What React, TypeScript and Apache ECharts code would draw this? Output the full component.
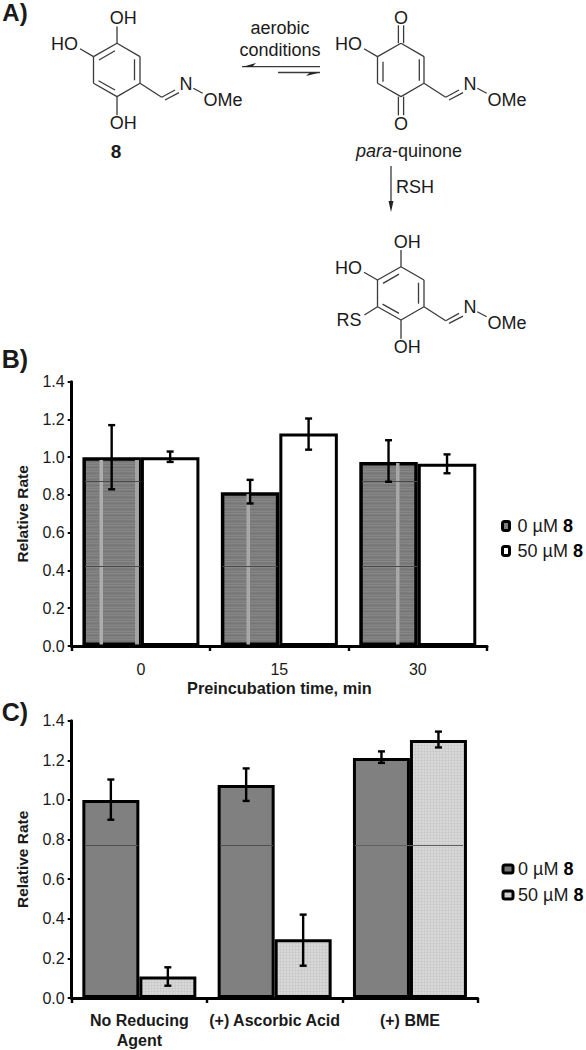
import React, { useEffect, useRef } from "react";
import * as echarts from "echarts";

const FONT = '"Liberation Sans", Arial, sans-serif';
const INK = "#1a1a1a";

// Panel B
const timeCats = ["0", "15", "30"];
const timeZero = [1.0, 0.815, 0.975];
const timeFifty = [1.0, 1.125, 0.965];
const timeZeroLow = [0.83, 0.755, 0.87];
const timeZeroHigh = [1.17, 0.88, 1.09];
const timeFiftyLow = [0.975, 1.04, 0.915];
const timeFiftyHigh = [1.03, 1.205, 1.015];

// Panel C
const agentCats = ["No Reducing\nAgent", "(+) Ascorbic Acid", "(+) BME"];
const agentZero = [1.0, 1.075, 1.212];
const agentFifty = [0.108, 0.296, 1.303];
const agentZeroLow = [0.9, 0.995, 1.187];
const agentZeroHigh = [1.103, 1.159, 1.245];
const agentFiftyLow = [0.062, 0.163, 1.265];
const agentFiftyHigh = [0.155, 0.421, 1.345];

const yTicks = { min: 0, max: 1.4, interval: 0.2 };
const legendNames = ["0 µM 8", "50 µM 8"];

function stripePattern(colors: string[], w = 4) {
  const c = document.createElement("canvas");
  c.width = w;
  c.height = colors.length;
  const ctx = c.getContext("2d")!;
  colors.forEach((col, i) => {
    ctx.fillStyle = col;
    ctx.fillRect(0, i, w, 1);
  });
  return { image: c, repeat: "repeat" };
}

function hatchPattern() {
  const c = document.createElement("canvas");
  c.width = 3;
  c.height = 3;
  const ctx = c.getContext("2d")!;
  ctx.fillStyle = "#d8d8d8";
  ctx.fillRect(0, 0, 3, 3);
  ctx.fillStyle = "#cccccc";
  ctx.fillRect(0, 1, 3, 1);
  ctx.fillRect(1, 0, 1, 3);
  return { image: c, repeat: "repeat" };
}

type P = [number, number];
const BOND = "#3a3a3a";

function bond(a: P, b: P, w = 1.3) {
  return {
    type: "line",
    silent: true,
    z: 1,
    shape: { x1: a[0], y1: a[1], x2: b[0], y2: b[1] },
    style: { stroke: BOND, lineWidth: w },
  };
}

function label(text: string, x: number, y: number, size = 18, weight = "normal", extra: any = {}) {
  return {
    type: "text",
    silent: true,
    z: 1,
    x,
    y,
    style: {
      text,
      fill: INK,
      font: `${weight} ${size}px ${FONT}`,
      align: "center",
      verticalAlign: "middle",
      ...extra,
    },
  };
}

const ringLocal: P[] = [[0, 0], [23, 13.3], [23, 40], [0, 53.3], [-23.5, 40], [-23.5, 13.3]];

function molecule(ox: number, oy: number, kind: "hydro" | "quinone" | "thio") {
  const t = (p: P): P => [ox + p[0], oy + p[1]];
  const out: any[] = [];
  const seg = (a: P, b: P) => out.push(bond(t(a), t(b)));
  ringLocal.forEach((p, i) => seg(p, ringLocal[(i + 1) % 6]));
  // side chain
  seg([23, 40], [44.7, 54]);
  seg([44.7, 54], [58, 46.7]);
  seg([48, 56.7], [62, 49.4]);
  seg([76.3, 45], [85.7, 50]);
  out.push(label("N", ox + 69, oy + 40.7));
  out.push(label("OMe", ox + 106, oy + 56.7));
  // HO
  seg([-37, 5.5], [-23.5, 13.3]);
  out.push(label("HO", ox - 52.5, oy + 1));
  if (kind === "quinone") {
    seg([-18, 18.4], [-18, 38.4]);
    seg([18.3, 16], [18.3, 37.4]);
    seg([-2.6, 0], [-2.6, -18]);
    seg([2.6, 0], [2.6, -18]);
    seg([-2.6, 53.3], [-2.6, 72]);
    seg([2.6, 53.3], [2.6, 72]);
    out.push(label("O", ox, oy - 25));
    out.push(label("O", ox, oy + 80.5));
  } else {
    seg([-18, 16.7], [-2, 7.4]);
    seg([17.5, 16], [17.5, 37]);
    seg([-18.5, 37.4], [-2, 46.7]);
    seg([0, -16.7], [0, 0]);
    seg([0, 53.3], [0, 72]);
    out.push(label("OH", ox + 6.3, oy - 25));
    out.push(label("OH", ox + 6.3, oy + 80));
  }
  if (kind === "thio") {
    seg([-36.6, 48.3], [-23.5, 40]);
    out.push(label("RS", ox - 52, oy + 53.3));
  }
  return out;
}

function filled(points: P[]) {
  return {
    type: "polygon",
    silent: true,
    z: 1,
    shape: { points },
    style: { fill: "#222" },
  };
}

function overlayRect(x: number, y: number, w: number, h: number, fill: string) {
  return {
    type: "rect",
    silent: true,
    z: 10,
    shape: { x, y, width: w, height: h },
    style: { fill },
  };
}

function schemeGraphics() {
  return [
    label("A)", 15, 12, 24, "bold"),
    label("B)", 15, 359, 25, "bold"),
    label("C)", 15, 712, 25, "bold"),
    ...molecule(117, 43.3, "hydro"),
    label("8", 116, 151, 19, "bold"),
    ...molecule(401, 43.3, "quinone"),
    ...molecule(401, 266.7, "thio"),
    label("aerobic", 280, 28),
    label("conditions", 280, 49.5),
    bond([242, 66.7], [320, 66.7]),
    filled([[242, 67], [256, 63], [252, 67]]),
    bond([278, 72.5], [320, 72.5]),
    filled([[320, 72.5], [306, 76], [310, 72.5]]),
    label("{i|para}-quinone", 409, 151, 18, "normal", {
      rich: { i: { fontStyle: "italic", fontSize: 18, fontFamily: FONT, fill: INK } },
    }),
    bond([391, 166], [391, 203]),
    filled([[391, 212], [388.5, 201], [393.5, 201]]),
    label("RSH", 415, 187),
    // scan lines and light bands of the printed bars
    overlayRect(99.5, 460, 3.5, 184.5, "#adadad"),
    overlayRect(135, 460, 4, 184.5, "#a3a3a3"),
    overlayRect(246.5, 494, 3.5, 150.5, "#a8a8a8"),
    overlayRect(396, 463, 3.5, 181.5, "#a8a8a8"),
    overlayRect(85, 481, 55, 1, "#4a4a4a"),
    overlayRect(362, 481, 55, 1, "#4a4a4a"),
    overlayRect(85, 566, 55, 1, "#4a4a4a"),
    overlayRect(222.5, 566, 55, 1, "#4a4a4a"),
    overlayRect(362, 566, 55, 1, "#4a4a4a"),
    overlayRect(85, 845, 53, 1, "#505050"),
    overlayRect(220, 845, 53, 1, "#505050"),
    overlayRect(355, 845, 108, 1, "#606060"),
  ];
}

function errorSeries(
  axis: number,
  low: number[],
  high: number[],
  sign: number,
  barW: number,
  capW: number
) {
  return {
    type: "custom",
    xAxisIndex: axis,
    yAxisIndex: axis,
    z: 20,
    silent: true,
    data: low.map((l, i) => [i, l, high[i]]),
    encode: { x: 0, y: [1, 2] },
    renderItem: (_: any, api: any) => {
      const i = api.value(0);
      const a = api.coord([i, api.value(1)]);
      const b = api.coord([i, api.value(2)]);
      const x = a[0] + (sign * barW) / 2;
      const st = { stroke: "#000", lineWidth: 2.4 };
      return {
        type: "group",
        children: [
          { type: "line", shape: { x1: x, y1: a[1], x2: x, y2: b[1] }, style: st },
          { type: "line", shape: { x1: x - capW, y1: a[1], x2: x + capW, y2: a[1] }, style: st },
          { type: "line", shape: { x1: x - capW, y1: b[1], x2: x + capW, y2: b[1] }, style: st },
        ],
      };
    },
  };
}

function yAxis(grid: number, nameGap: number) {
  return {
    type: "value",
    gridIndex: grid,
    ...yTicks,
    name: "Relative Rate",
    nameLocation: "middle",
    nameGap,
    nameTextStyle: { fontFamily: FONT, fontSize: 15.5, fontWeight: "bold", color: INK },
    axisLine: { show: true, lineStyle: { color: "#000", width: 3 } },
    axisTick: { show: true, length: 4, lineStyle: { color: "#000", width: 2 } },
    axisLabel: {
      fontFamily: FONT,
      fontSize: 16,
      color: INK,
      margin: 7,
      formatter: (v: number) => v.toFixed(1),
    },
    splitLine: { show: false },
  };
}

function xAxis(grid: number, cats: string[], bold: boolean, extra: any) {
  return {
    type: "category",
    gridIndex: grid,
    data: cats,
    axisLine: { show: true, lineStyle: { color: "#000", width: 3 } },
    axisTick: { show: true, length: 5, lineStyle: { color: "#000", width: 2.4 } },
    axisLabel: {
      interval: 0,
      fontFamily: FONT,
      fontSize: bold ? 16 : 16,
      fontWeight: bold ? "bold" : "normal",
      lineHeight: 20,
      color: INK,
      margin: bold ? 12 : 13,
    },
    splitLine: { show: false },
    ...extra,
  };
}

function legend(
  left: number,
  top: number,
  second: any,
  gap: number,
  w: number,
  h: number,
  first: any,
  textInset: number
) {
  return {
    left,
    top,
    padding: 0,
    orient: "vertical",
    selectedMode: false,
    itemGap: gap,
    itemWidth: w,
    itemHeight: h,
    icon: "roundRect",
    data: [
      { name: legendNames[0], itemStyle: { color: first, borderColor: "#000", borderWidth: 3 } },
      { name: legendNames[1], itemStyle: { color: second, borderColor: "#000", borderWidth: 3 } },
    ],
    formatter: (n: string) => `{a|${n.slice(0, -1)}}{b|8}`,
    textStyle: {
      rich: {
        a: { fontFamily: FONT, fontSize: 18, color: INK, height: 20, padding: [0, 0, 0, textInset] },
        b: { fontFamily: FONT, fontSize: 18, fontWeight: "bold", color: "#000", height: 20 },
      },
    },
  };
}

export default function App() {
  const ref = useRef<HTMLDivElement>(null);
  useEffect(() => {
    document.body.style.margin = "0";
    const chart = echarts.init(ref.current!, undefined, { renderer: "svg" });
    const grayB = stripePattern(["#7e7e7e", "#858585", "#797979", "#878787", "#7c7c7c", "#767676"]);
    const hatch = hatchPattern();
    const barB = 58.5;
    const barC = 57;
    chart.setOption({
      animation: false,
      backgroundColor: "#fff",
      grid: [
        { left: 71.7, right: 99, top: 381.7, height: 264.3 },
        { left: 71.7, right: 108.4, top: 720.7, height: 280.3 },
      ],
      xAxis: [
        xAxis(0, timeCats, false, {
          name: "Preincubation time, min",
          nameLocation: "middle",
          nameGap: 34,
          nameTextStyle: { fontFamily: FONT, fontSize: 16.3, fontWeight: "bold", color: INK },
        }),
        xAxis(1, agentCats, true, {}),
      ],
      yAxis: [yAxis(0, 41), yAxis(1, 41)],
      legend: [
        legend(501, 517, "#fff", 7, 7, 9, "#808080", 3),
        legend(501.5, 860, hatch, 8, 10, 8, "#777", 0),
      ],
      series: [
        {
          type: "bar",
          name: legendNames[0],
          xAxisIndex: 0,
          yAxisIndex: 0,
          data: timeZero,
          barWidth: barB,
          barGap: 0,
          z: 3,
          itemStyle: { color: grayB, borderColor: "#000", borderWidth: 3.5 },
        },
        {
          type: "bar",
          name: legendNames[1],
          xAxisIndex: 0,
          yAxisIndex: 0,
          data: timeFifty,
          barWidth: barB,
          barGap: 0,
          z: 2,
          itemStyle: { color: "#fff", borderColor: "#000", borderWidth: 3 },
        },
        {
          type: "bar",
          name: legendNames[0],
          xAxisIndex: 1,
          yAxisIndex: 1,
          data: agentZero,
          barWidth: barC,
          barGap: 0,
          z: 3,
          itemStyle: { color: "#808080", borderColor: "#000", borderWidth: 3 },
        },
        {
          type: "bar",
          name: legendNames[1],
          xAxisIndex: 1,
          yAxisIndex: 1,
          data: agentFifty,
          barWidth: barC,
          barGap: 0,
          z: 2,
          itemStyle: { color: hatch, borderColor: "#000", borderWidth: 3 },
        },
        errorSeries(0, timeZeroLow, timeZeroHigh, -1, barB, 3.5),
        errorSeries(0, timeFiftyLow, timeFiftyHigh, 1, barB, 3.5),
        errorSeries(1, agentZeroLow, agentZeroHigh, -1, barC, 3.5),
        errorSeries(1, agentFiftyLow, agentFiftyHigh, 1, barC, 3.5),
      ],
      graphic: { elements: schemeGraphics() },
    });
    return () => chart.dispose();
  }, []);
  return <div ref={ref} style={{ position: "absolute", left: 0, top: 0, width: 586, height: 1050 }} />;
}
